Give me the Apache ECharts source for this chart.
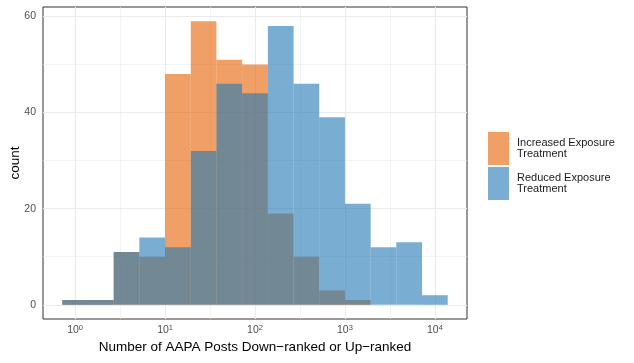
<!DOCTYPE html>
<html>
<head>
<meta charset="utf-8">
<script src="https://cdn.jsdelivr.net/npm/echarts@6/dist/echarts.min.js"></script>
<style>
  html, body { margin: 0; padding: 0; background: #fff; }
  #chart { width: 634px; height: 363px; }
</style>
</head>
<body>
<div id="chart"></div>
<script>
// bin edges, log10 units
const binEdges = [-0.143, 0.143, 0.429, 0.714, 1.0, 1.286, 1.571, 1.857, 2.143, 2.429, 2.714, 3.0, 3.286, 3.571, 3.857, 4.143]
const increasedCounts = [1, 1, 11, 10, 48, 59, 51, 50, 19, 10, 3, 1, 0, 0, 0]
const reducedCounts = [1, 1, 11, 14, 12, 32, 46, 44, 58, 46, 39, 21, 12, 13, 2]

const seriesNames = ['Increased Exposure Treatment', 'Reduced Exposure Treatment']
const xMajor = [0, 1, 2, 3, 4]
const xMinor = [0.5, 1.5, 2.5, 3.5]
const yMajor = [0, 20, 40, 60]
const yMinor = [10, 30, 50]

const font = 'Liberation Sans, Arial, sans-serif'
const orange = '#E66100'
const blue = '#1F78B4'

const toBins = (counts) => counts.map((c, i) => [binEdges[i], binEdges[i + 1], c])

const renderBin = (params, api) => {
  const c = api.value(2)
  if (!c) return
  const p0 = api.coord([api.value(0), c])
  const p1 = api.coord([api.value(1), 0])
  return {
    type: 'rect',
    shape: { x: p0[0], y: p0[1], width: p1[0] - p0[0], height: p1[1] - p0[1] },
    style: { fill: api.visual('color'), opacity: 0.6 }
  }
}

const gridLines = [
  ...xMajor.map(v => ({ xAxis: v, lineStyle: { width: 1.1 } })),
  ...xMinor.map(v => ({ xAxis: v, lineStyle: { width: 0.6 } })),
  ...yMajor.map(v => ({ yAxis: v, lineStyle: { width: 1.1 } })),
  ...yMinor.map(v => ({ yAxis: v, lineStyle: { width: 0.6 } }))
]

const chart = echarts.init(document.getElementById('chart'), null, { renderer: 'canvas' })

chart.setOption({
  animation: false,
  backgroundColor: '#fff',
  textStyle: { fontFamily: font },
  grid: {
    left: 43, right: 167, top: 7, bottom: 44,
    containLabel: false, outerBoundsMode: 'none',
    show: true, borderColor: '#333', borderWidth: 1, backgroundColor: 'transparent'
  },
  legend: {
    orient: 'vertical',
    left: 488, top: 132, padding: 0,
    itemWidth: 21, itemHeight: 33, itemGap: 2,
    icon: 'rect',
    data: [
      { name: seriesNames[0], itemStyle: { color: orange, opacity: 0.6 } },
      { name: seriesNames[1], itemStyle: { color: blue, opacity: 0.6 } }
    ],
    formatter: (name) => name.replace(' Treatment', '\nTreatment'),
    textStyle: { fontFamily: font, fontSize: 11, lineHeight: 11, color: '#1a1a1a', padding: [0, 0, 0, 3] }
  },
  xAxis: {
    type: 'value',
    min: -0.357, max: 4.357,
    name: 'Number of AAPA Posts Down\u2212ranked or Up\u2212ranked',
    nameLocation: 'middle', nameGap: 21, nameMoveOverlap: false,
    nameTextStyle: { fontFamily: font, fontSize: 13.5, color: '#000' },
    axisLine: { show: false },
    axisTick: { show: true, customValues: xMajor, length: 3, lineStyle: { color: '#333', width: 1 } },
    axisLabel: {
      customValues: xMajor, margin: 5,
      formatter: (v) => '{b|10}{s|' + v + '}',
      rich: {
        b: { fontFamily: font, fontSize: 10.5, color: '#4D4D4D', verticalAlign: 'bottom' },
        s: { fontFamily: font, fontSize: 7.5, color: '#4D4D4D', verticalAlign: 'bottom', padding: [0, 0, 4, 0] }
      }
    },
    splitLine: { show: false }
  },
  yAxis: {
    type: 'value',
    min: -2.95, max: 61.95,
    name: 'count',
    nameLocation: 'middle', nameGap: 21, nameRotate: 90, nameMoveOverlap: false,
    nameTextStyle: { fontFamily: font, fontSize: 13.5, color: '#000' },
    axisLine: { show: false },
    axisTick: { show: true, customValues: yMajor, length: 3, lineStyle: { color: '#333', width: 1 } },
    axisLabel: { customValues: yMajor, margin: 7, fontFamily: font, fontSize: 10.5, color: '#4D4D4D' },
    splitLine: { show: false }
  },
  series: [
    {
      type: 'line', name: 'grid', data: [], silent: true, z: 0,
      markLine: {
        silent: true, symbol: 'none', z: 1, animation: false,
        label: { show: false },
        lineStyle: { color: '#EBEBEB', type: 'solid' },
        emphasis: { disabled: true },
        data: gridLines
      }
    },
    {
      type: 'custom', name: seriesNames[0], z: 2,
      itemStyle: { color: orange },
      encode: { x: [0, 1], y: 2 },
      renderItem: renderBin,
      data: toBins(increasedCounts)
    },
    {
      type: 'custom', name: seriesNames[1], z: 3,
      itemStyle: { color: blue },
      encode: { x: [0, 1], y: 2 },
      renderItem: renderBin,
      data: toBins(reducedCounts)
    }
  ]
})
</script>
</body>
</html>
